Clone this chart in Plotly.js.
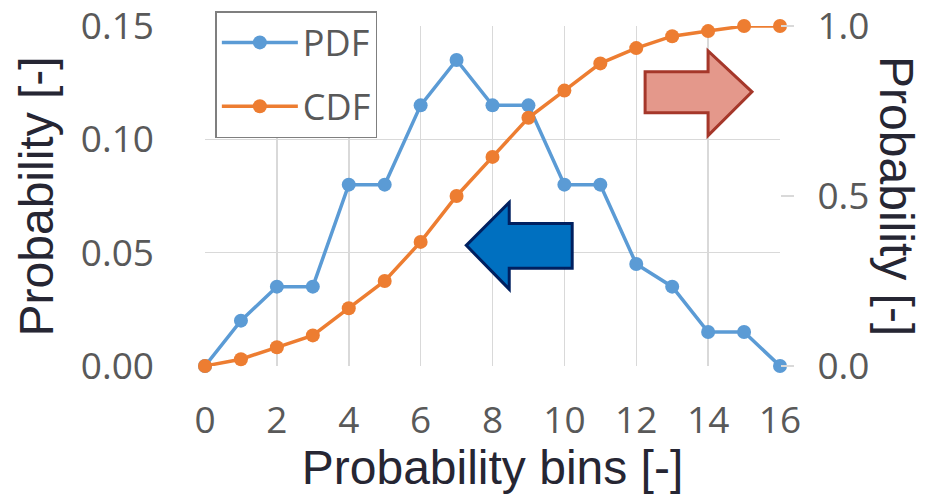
<!DOCTYPE html>
<html>
<head>
<meta charset="utf-8">
<script src="https://cdn.plot.ly/plotly-3.0.1.min.js"></script>
<style>html,body{margin:0;padding:0;background:#fff;}#chart{width:936px;height:494px;}</style>
</head>
<body>
<div id="chart"></div>
<script>
var bins = [0,1,2,3,4,5,6,7,8,9,10,11,12,13,14,15,16];
var pdfValues = [0,0.02,0.035,0.035,0.08,0.08,0.115,0.135,0.115,0.115,0.08,0.08,0.045,0.035,0.015,0.015,0];
var cdfValues = [0,0.02,0.055,0.09,0.17,0.25,0.365,0.5,0.615,0.73,0.81,0.89,0.935,0.97,0.985,1.0,1.0];
var xTickVals = [0,2,4,6,8,10,12,14,16];
var leftTickVals = [0,0.05,0.10,0.15];
var leftTickText = ['0.00','0.05','0.10','0.15'];
var rightTickVals = [0,0.5,1.0];
var rightTickText = ['0.0','0.5','1.0'];

var tickFont = {family:'Open Sans, Liberation Sans, sans-serif', size:37, color:'#595959'};
var titleFont = {family:'Liberation Sans, Arial, sans-serif', size:48, color:'#262633'};

var traces = [
  {x:bins, y:pdfValues, name:'PDF', type:'scatter', mode:'lines+markers', yaxis:'y', legendgroup:'a',
   line:{color:'#5B9BD5', width:3.5}, marker:{color:'#5B9BD5', size:14}, cliponaxis:false},
  {x:bins, y:cdfValues, name:'CDF', type:'scatter', mode:'lines+markers', yaxis:'y2', legendgroup:'b',
   line:{color:'#ED7D31', width:3.5}, marker:{color:'#ED7D31', size:14}, cliponaxis:false}
];

var layout = {
  width:936, height:494,
  margin:{l:204.5, r:156, t:25, b:128},
  paper_bgcolor:'#fff', plot_bgcolor:'#fff',
  showlegend:true,
  legend:{x:0.018, y:1.041, xanchor:'left', yanchor:'top', bgcolor:'#fff', bordercolor:'#7f7f7f', borderwidth:1.5,
    font:{family:'Open Sans, Liberation Sans, sans-serif', size:36, color:'#595959'}, tracegroupgap:14, itemwidth:76,
    entrywidth:187},
  xaxis:{range:[0,16], tickvals:xTickVals, showgrid:true, gridcolor:'#d9d9d9', gridwidth:1.5, zeroline:false,
    showline:false, ticks:'', tickfont:tickFont, ticklabelstandoff:29, ticklabeloverflow:'allow',
    title:{text:'Probability bins [-]', font:titleFont, standoff:2}},
  yaxis:{range:[0,0.1500001], tickvals:leftTickVals, ticktext:leftTickText, showgrid:true, gridcolor:'#d9d9d9', gridwidth:1.5,
    zeroline:false, showline:false, ticks:'', tickfont:tickFont, ticklabelstandoff:50, ticklabeloverflow:'allow'},
  yaxis2:{range:[0,1.000001], overlaying:'y', side:'right', tickvals:rightTickVals, ticktext:rightTickText, showgrid:false,
    zeroline:false, showline:false, ticks:'outside', ticklen:13, tickwidth:1.5, tickcolor:'#d9d9d9', tickfont:tickFont,
    ticklabelstandoff:16, ticklabeloverflow:'allow'},
  annotations:[
    {text:'Probability [-]', xref:'paper', yref:'paper', x:-0.2932, y:0.5, textangle:-90, showarrow:false,
     xanchor:'center', yanchor:'middle', font:titleFont},
    {text:'Probability [-]', xref:'paper', yref:'paper', x:1.2033, y:0.5, textangle:90, showarrow:false,
     xanchor:'center', yanchor:'middle', font:titleFont}
  ],
  shapes:[
    {type:'path', xref:'paper', yref:'paper', layer:'above',
     path:'M0.7654,0.8651 L0.8749,0.8651 L0.8749,0.9267 L0.9513,0.8065 L0.8749,0.6774 L0.8749,0.7449 L0.7654,0.7449 Z',
     fillcolor:'#E4988B', line:{color:'#A5372A', width:3}},
    {type:'path', xref:'paper', yref:'paper', layer:'above',
     path:'M0.4544,0.3548 L0.5291,0.4809 L0.5291,0.4194 L0.6386,0.4194 L0.6386,0.2874 L0.5291,0.2874 L0.5291,0.2258 Z',
     fillcolor:'#0070C0', line:{color:'#002060', width:3}}
  ]
};

Plotly.newPlot('chart', traces, layout, {displayModeBar:false, staticPlot:true});
</script>
</body>
</html>
